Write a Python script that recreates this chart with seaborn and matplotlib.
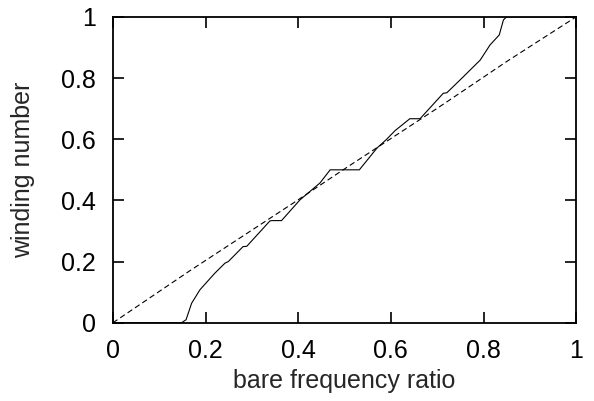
import numpy as np
import pandas as pd
import matplotlib
matplotlib.use("Agg")
import matplotlib.pyplot as plt
import seaborn as sns

# winding number staircase
ratio = [0.0, 0.148, 0.158, 0.170, 0.188, 0.201, 0.220, 0.242, 0.249, 0.281,
         0.289, 0.339, 0.343, 0.364, 0.404, 0.447, 0.469, 0.532, 0.570, 0.591,
         0.609, 0.641, 0.663, 0.713, 0.721, 0.757, 0.793, 0.814, 0.834, 0.843,
         0.850, 1.0]
winding = [0.0, 0.0, 0.01, 0.064, 0.108, 0.130, 0.162, 0.195, 0.200, 0.249,
           0.250, 0.333, 0.334, 0.334, 0.402, 0.457, 0.500, 0.500, 0.571, 0.600,
           0.628, 0.667, 0.667, 0.750, 0.752, 0.805, 0.859, 0.908, 0.941, 0.990,
           1.0, 1.0]

# dashed reference (nearly the diagonal)
ratio_ref = [0.0, 0.166, 0.389, 0.505, 0.706, 0.850, 1.0]
winding_ref = [0.0, 0.170, 0.391, 0.508, 0.707, 0.854, 1.0]

ticks = [0, 0.2, 0.4, 0.6, 0.8, 1]
tick_labels = ["0", "0.2", "0.4", "0.6", "0.8", "1"]

sns.set_style("ticks")
plt.rcParams["font.family"] = ["Liberation Sans", "DejaVu Sans"]

fig = plt.figure(figsize=(5.94, 4.01), dpi=100)
ax = fig.add_axes([0.190, 0.195, 0.780, 0.763])

df = pd.DataFrame({"x": ratio, "y": winding})
df_ref = pd.DataFrame({"x": ratio_ref, "y": winding_ref})

sns.lineplot(data=df, x="x", y="y", ax=ax, color="black", linewidth=0.8,
             sort=False, estimator=None)
sns.lineplot(data=df_ref, x="x", y="y", ax=ax, color="black", linewidth=0.8,
             sort=False, estimator=None, dashes=False)
ax.lines[-1].set_dashes([5, 3])

ax.set_xlim(0, 1)
ax.set_ylim(0, 1)
ax.set_xticks(ticks)
ax.set_xticklabels(tick_labels)
ax.set_yticks(ticks)
ax.set_yticklabels(tick_labels)
ax.tick_params(direction="in", length=8, width=1.2, top=True, right=True,
               labelsize=18, colors="black", pad=12)
for s in ax.spines.values():
    s.set_linewidth(1.3)
    s.set_color("black")

ax.set_xlabel("bare frequency ratio", fontsize=18, labelpad=4)
ax.set_ylabel("winding number", fontsize=18, labelpad=19)

fig.savefig("out.png", dpi=100)
